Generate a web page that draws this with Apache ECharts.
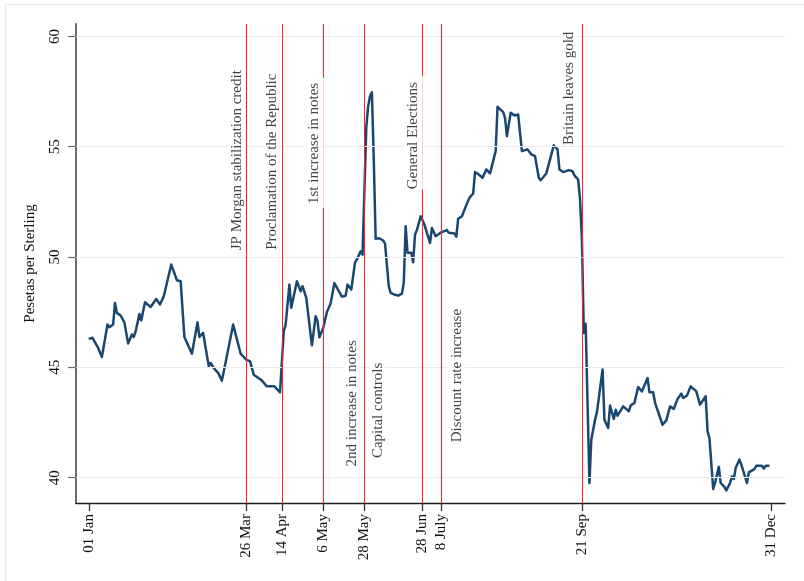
<!DOCTYPE html>
<html>
<head>
<meta charset="utf-8">
<title>Pesetas per Sterling, 1931</title>
<script src="https://cdn.jsdelivr.net/npm/echarts@6/dist/echarts.min.js"></script>
<style>
  html, body { margin: 0; padding: 0; background: #fff; }
  #chart { width: 804px; height: 581px; }
</style>
</head>
<body>
<div id="chart"></div>
<script>
// Daily exchange rate, pesetas per pound sterling, 1931.
// x = days elapsed since 1 January 1931.
const dayOfYear = [
  0, 2, 3, 5, 6, 7, 8, 10, 11, 12, 13, 14, 15, 17, 19, 21, 23, 24, 25, 27,
  28, 30, 31, 33, 36, 38, 40, 41, 44, 45, 47, 49, 51, 52, 55, 56, 58, 59, 61, 64,
  65, 67, 69, 71, 73, 74, 77, 78, 81, 84, 86, 88, 92, 95, 99, 102, 104, 105, 106, 107,
  108, 111, 112, 113, 114, 116, 119, 121, 122, 123, 125, 127, 129, 131, 132, 135, 137, 138, 140, 142,
  143, 145, 146, 147, 148, 149, 150, 151, 152, 153, 155, 157, 158, 160, 161, 163, 165, 167, 168, 169,
  170, 172, 173, 174, 175, 177, 179, 182, 183, 185, 188, 191, 192, 195, 196, 197, 199, 202, 203, 205,
  206, 208, 210, 212, 214, 215, 217, 218, 219, 221, 222, 223, 225, 227, 229, 231, 232, 234, 236, 238,
  240, 241, 244, 248, 250, 251, 253, 256, 258, 259, 261, 262, 263, 264, 265, 267, 268, 270, 271, 274,
  275, 277, 278, 280, 281, 282, 285, 286, 288, 289, 291, 293, 294, 295, 296, 298, 299, 301, 302, 303,
  306, 308, 310, 312, 314, 315, 316, 317, 319, 321, 322, 324, 326, 327, 329, 330, 331, 333, 334, 336,
  337, 339, 340, 342, 343, 344, 345, 347, 348, 349, 351, 352, 353, 355, 356, 359, 360, 361, 363
];
const pesetasPerSterling = [
  46.29, 46.34, 46.26, 45.88, 45.80, 45.47, 45.50, 46.94, 46.82, 46.74, 46.94, 47.92, 47.47, 47.35, 47.04, 46.08, 46.49, 46.38, 46.63, 47.42,
  47.13, 47.95, 47.95, 47.74, 48.10, 47.85, 48.22, 48.18, 49.66, 49.66, 48.95, 48.90, 46.38, 46.38, 45.62, 45.53, 47.04, 46.38, 46.56, 45.05,
  45.20, 44.93, 44.75, 44.40, 45.23, 45.23, 46.94, 46.89, 45.62, 45.35, 45.27, 44.67, 44.43, 44.14, 44.14, 43.87, 46.63, 46.94, 46.94, 48.75,
  47.70, 48.90, 48.90, 48.45, 48.68, 48.15, 46.00, 47.32, 47.09, 46.36, 46.77, 47.51, 47.90, 48.82, 48.81, 48.21, 48.25, 48.75, 48.53, 49.76,
  49.89, 50.26, 50.11, 50.16, 55.86, 56.84, 57.29, 57.47, 54.42, 50.83, 50.85, 50.75, 50.61, 48.68, 48.38, 48.30, 48.25, 48.34, 48.83, 51.40,
  50.19, 50.19, 49.76, 51.02, 51.22, 51.85, 51.47, 50.64, 51.32, 50.94, 51.12, 51.22, 51.10, 51.07, 50.92, 51.73, 51.85, 52.49, 52.68, 52.88,
  53.85, 53.74, 53.59, 53.97, 53.79, 53.79, 54.80, 56.81, 56.87, 56.57, 56.31, 55.48, 56.54, 56.42, 56.46, 54.80, 54.73, 54.88, 54.65, 54.57,
  53.59, 53.48, 53.79, 55.06, 54.88, 53.97, 53.85, 53.94, 53.89, 53.70, 53.51, 52.61, 50.79, 46.56, 46.98, 39.76, 41.72, 42.63, 42.96, 44.90,
  42.63, 42.25, 43.27, 42.66, 43.08, 42.81, 43.23, 43.23, 43.01, 43.27, 43.39, 44.11, 44.14, 43.91, 43.91, 44.52, 43.87, 43.87, 43.39, 43.46,
  42.40, 42.60, 43.23, 43.12, 43.57, 43.61, 43.81, 43.61, 43.72, 44.14, 44.14, 43.91, 43.31, 43.39, 43.69, 42.10, 41.80, 39.49, 39.76, 40.49,
  39.76, 39.58, 39.42, 39.76, 40.06, 39.94, 40.44, 40.82, 40.59, 40.54, 39.76, 40.24, 40.33, 40.39, 40.54, 40.54, 40.42, 40.54, 40.54
];

// Date ticks on the x axis (days since 1 January) and their labels.
const tickDays = [0, 84, 103, 125, 147, 178, 188, 263, 364];
const tickLabels = ['01 Jan', '26 Mar', '14 Apr', '6 May', '28 May', '28 Jun', '8 July', '21 Sep', '31 Dec'];

// Days of the events marked with vertical lines.
const eventDays = [84, 103, 125, 147, 178, 188, 263];

// Y ticks.
const yTicks = [40, 45, 50, 55, 60];

// Event notes: text, day of the event line, the value where the text box starts,
// which side of the line it sits on, its gap from the line in pixels and the
// padding of its white box.
const notes = [
  { text: 'JP Morgan stabilization credit', day: 84,  at: 50.24, side: 'left',  gap: 1,  pad: [0, 1, 0, 1] },
  { text: 'Proclamation of the Republic',   day: 103, at: 50.26, side: 'left',  gap: 1,  pad: [0, 1, 0, 1] },
  { text: '1st increase in notes',          day: 125, at: 52.20, side: 'left',  gap: -2, pad: [1, 5, 3, 4] },
  { text: '2nd increase in notes',          day: 147, at: 40.44, side: 'left',  gap: 4,  pad: [0, 1, 0, 1] },
  { text: 'Capital controls',               day: 147, at: 40.82, side: 'right', gap: 5,  pad: [0, 1, 0, 1] },
  { text: 'General Elections',              day: 178, at: 53.05, side: 'left',  gap: -2, pad: [1, 6, 3, 0] },
  { text: 'Discount rate increase',         day: 188, at: 41.54, side: 'right', gap: 7,  pad: [0, 1, 0, 1] },
  { text: 'Britain leaves gold',            day: 263, at: 55.01, side: 'left',  gap: 4,  pad: [0, 1, 0, 1] }
];

const FONT = '"Liberation Serif", "Times New Roman", serif';
const TEXT = '#111111';

const chart = echarts.init(document.getElementById('chart'), null, { renderer: 'canvas' });

const series = [
  // horizontal grid lines
  {
    type: 'line',
    data: [],
    silent: true,
    z: 1,
    markLine: {
      silent: true,
      symbol: ['none', 'none'],
      label: { show: false },
      lineStyle: { color: '#ebebeb', width: 1.2, type: 'solid' },
      emphasis: { disabled: true },
      data: yTicks.map(v => ({ yAxis: v }))
    }
  },
  // event lines
  {
    type: 'line',
    data: [],
    silent: true,
    z: 2,
    markLine: {
      silent: true,
      symbol: ['none', 'none'],
      label: { show: false },
      lineStyle: { color: '#ff2020', width: 1, type: 'solid' },
      emphasis: { disabled: true },
      data: eventDays.map(d => ({ xAxis: d }))
    }
  },
  // exchange rate
  {
    type: 'line',
    z: 3,
    data: dayOfYear.map((d, i) => [d, pesetasPerSterling[i]]),
    showSymbol: false,
    symbol: 'none',
    lineStyle: { color: '#1a476f', width: 2.5, join: 'round' },
    silent: true
  },
  // event notes
  {
    type: 'scatter',
    z: 5,
    silent: true,
    symbolSize: 1,
    itemStyle: { color: 'rgba(0,0,0,0)' },
    data: notes.map(n => ({
      value: [n.day, n.at],
      label: {
        show: true,
        formatter: n.text,
        position: [n.side === 'left' ? -n.gap : n.gap + 1, 0],
        rotate: 90,
        align: 'left',
        verticalAlign: n.side === 'left' ? 'bottom' : 'top',
        fontFamily: FONT,
        fontSize: 15,
        lineHeight: 16,
        color: TEXT,
        backgroundColor: '#ffffff',
        padding: n.pad
      }
    }))
  }
];

const option = {
  animation: false,
  backgroundColor: '#ffffff',
  textStyle: { fontFamily: FONT },
  graphic: [
    {
      type: 'rect',
      silent: true,
      shape: { x: 5.5, y: 4.5, width: 830, height: 600 },
      style: { fill: 'none', stroke: '#e3eced', lineWidth: 1 }
    }
  ],
  grid: {
    left: 76, right: 19, top: 24, bottom: 78,
    containLabel: false,
    outerBoundsMode: 'none'
  },
  xAxis: {
    type: 'value',
    min: -6.8,
    max: 371.3,
    splitLine: { show: false },
    axisLine: { show: true, onZero: false, lineStyle: { color: '#1a1a1a', width: 1.3 } },
    axisTick: { show: true, length: 8, customValues: tickDays, lineStyle: { color: '#333', width: 1.3 } },
    axisLabel: {
      customValues: tickDays,
      rotate: 90,
      margin: 11,
      fontFamily: FONT,
      fontSize: 15,
      color: TEXT,
      hideOverlap: false,
      formatter: v => tickLabels[tickDays.indexOf(v)]
    }
  },
  yAxis: {
    type: 'value',
    min: 38.853,
    max: 60.562,
    name: 'Pesetas per Sterling',
    nameLocation: 'middle',
    nameRotate: 90,
    nameGap: 38,
    nameTextStyle: { fontFamily: FONT, fontSize: 15, color: TEXT },
    splitLine: { show: false },
    axisLine: { show: true, onZero: false, lineStyle: { color: '#6a6a6a', width: 2 } },
    axisTick: { show: true, length: 8, customValues: yTicks, lineStyle: { color: '#6a6a6a', width: 1.2 } },
    axisLabel: {
      customValues: yTicks,
      rotate: 90,
      margin: 13,
      fontFamily: FONT,
      fontSize: 15,
      color: TEXT,
      formatter: v => String(v)
    }
  },
  series: series
};

chart.setOption(option);
</script>
</body>
</html>
